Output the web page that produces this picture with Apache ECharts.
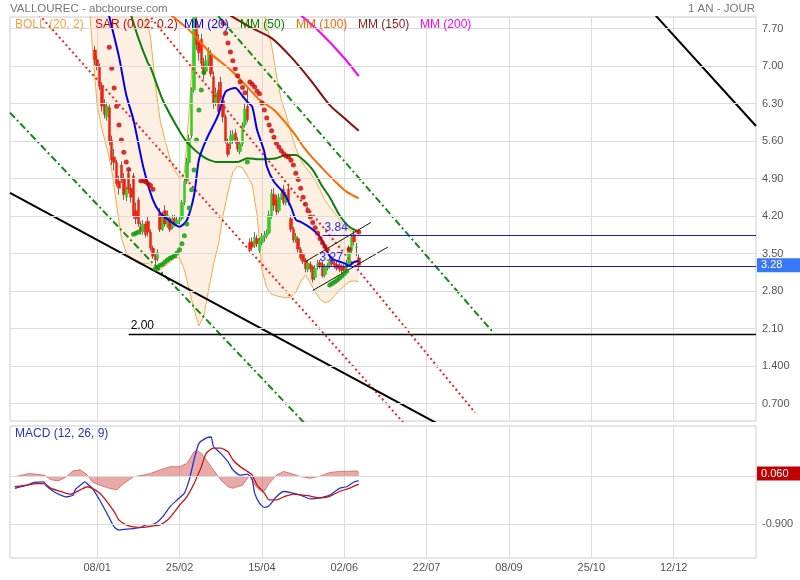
<!DOCTYPE html>
<html><head><meta charset="utf-8">
<script src="https://cdn.jsdelivr.net/npm/echarts@6/dist/echarts.min.js"></script>
<style>html,body{margin:0;padding:0;background:#fff}#c{width:800px;height:580px}</style>
</head><body><div id="c"></div>
<script>
// ---------- DATA ----------
// x = trading-day slot index (slot 36 = 08/01, one slot per trading day)
const SLOT_COUNT = 309;
const tickSlots  = [36, 70, 104, 138, 172, 206, 240, 274];
const tickLabels = ['08/01','25/02','15/04','02/06','22/07','08/09','25/10','12/12'];

const priceTicks      = [0.7, 1.4, 2.1, 2.8, 3.5, 4.2, 4.9, 5.6, 6.3, 7.0, 7.7];
const priceTickLabels = ['0.700','1.400','2.10','2.80','3.50','4.20','4.90','5.60','6.30','7.00','7.70'];
const macdTicks      = [0, -0.9];
const macdTickLabels = ['', '-0.900'];

const CANDLE_START = 35;
const open = [7.30,7.12,6.98,6.62,6.28,6.05,6.22,5.62,5.30,5.20,
4.85,5.15,4.90,4.55,5.00,4.72,4.95,4.30,4.50,4.00,
3.90,4.05,4.10,3.90,3.60,3.45,3.40,4.25,3.95,4.30,
4.00,4.15,3.98,4.15,4.05,4.10,4.15,4.45,4.85,5.20,
5.70,6.55,7.85,7.45,7.50,7.05,6.90,7.10,7.20,6.80,
6.30,6.55,6.70,6.35,6.05,5.55,5.55,5.62,5.75,5.60,
5.40,5.55,5.90,6.25,3.70,3.72,3.65,3.78,3.55,3.70,
3.80,3.82,3.88,4.20,4.60,4.50,4.30,4.55,4.70,4.45,
4.70,4.15,3.95,3.75,3.78,3.58,3.48,3.38,3.20,3.30,
3.25,3.05,3.25,3.33,3.30,3.10,3.22,3.28,3.38,3.32,
3.30,3.28,3.25,3.25,3.22,3.30,3.55,3.85,3.60,3.42];
const close = [7.12,7.00,6.62,6.25,6.10,6.25,5.60,5.25,5.20,4.80,
4.72,4.88,4.60,4.70,4.70,4.55,4.20,4.15,4.05,3.92,
4.05,3.85,3.90,3.60,3.45,3.38,3.52,3.95,4.20,4.05,
4.22,3.95,4.15,4.05,4.12,4.14,4.45,4.85,5.20,5.65,
6.55,7.90,7.40,7.25,7.05,6.85,7.10,7.28,6.85,6.30,
6.50,6.15,6.40,6.05,5.60,5.35,5.70,5.72,5.62,5.45,
5.55,5.90,6.20,6.00,3.58,3.62,3.80,3.68,3.75,3.82,
3.85,3.88,4.22,4.62,4.40,4.28,4.55,4.62,4.45,4.60,
4.48,3.95,3.75,3.82,3.58,3.42,3.35,3.22,3.32,3.22,
3.02,3.22,3.30,3.28,3.08,3.25,3.28,3.38,3.30,3.28,
3.22,3.20,3.18,3.20,3.32,3.60,3.80,3.72,3.62,3.28];
const low = [7.02,6.92,6.55,6.15,6.02,5.98,5.52,5.15,5.05,4.75,
4.60,4.82,4.50,4.48,4.62,4.45,4.15,4.05,4.00,3.85,
3.85,3.80,3.82,3.55,3.40,3.28,3.35,3.90,3.92,4.00,
3.98,3.90,3.95,4.00,4.02,4.05,4.12,4.40,4.80,5.15,
5.65,6.50,7.30,7.10,6.95,6.75,6.85,7.00,6.80,6.20,
6.25,6.10,6.35,5.95,5.55,5.30,5.45,5.55,5.55,5.40,
5.35,5.50,5.85,5.95,3.52,3.55,3.60,3.62,3.50,3.65,
3.72,3.78,3.85,4.15,4.30,4.22,4.25,4.50,4.40,4.40,
4.40,3.90,3.70,3.70,3.52,3.38,3.30,3.15,3.15,3.15,
2.96,3.00,3.20,3.22,3.05,3.05,3.18,3.22,3.25,3.22,
3.18,3.15,3.12,3.15,3.18,3.25,3.50,3.65,3.45,3.22];
const high = [7.38,7.20,7.05,6.70,6.38,6.32,6.28,5.70,5.45,5.25,
4.95,5.22,5.00,4.75,5.08,4.80,5.00,4.45,4.55,4.10,
4.12,4.10,4.20,3.95,3.65,3.50,3.58,4.35,4.28,4.40,
4.30,4.20,4.22,4.22,4.18,4.20,4.50,4.90,5.28,5.72,
6.60,8.20,8.10,7.60,7.60,7.15,7.20,7.35,7.30,6.90,
6.60,6.70,6.80,6.45,6.10,5.65,5.80,5.80,5.82,5.68,
5.60,5.95,6.30,6.60,3.78,3.80,3.90,3.85,3.80,3.88,
3.92,3.95,4.30,4.70,4.72,4.60,4.62,4.70,4.78,4.65,
4.80,4.22,4.00,3.88,3.82,3.62,3.52,3.42,3.38,3.35,
3.28,3.28,3.38,3.38,3.35,3.30,3.32,3.42,3.45,3.38,
3.35,3.32,3.30,3.30,3.38,3.65,3.85,3.92,3.70,3.48];
const lastPrice = 3.28;

const bollSlots = [33,34,36,38,40,42,44,46,48,50,52,54,56,58,60,62,64,66,68,70,72,74,76,78,80,82,84,86,88,90,92,94,96,98,100,102,104,106,108,110,112,114,116,118,120,122,124,126,128,130,132,134,136,138,140,142,144];
const bollLower = [7.95,7.35,6.27,5.81,5.47,5.06,4.41,3.79,3.51,3.42,3.34,3.30,3.32,3.30,3.19,3.19,3.27,3.34,3.42,3.42,3.19,2.82,2.45,2.15,2.33,2.82,3.29,3.66,4.22,4.65,5.02,5.13,5.10,4.95,4.78,4.22,3.19,2.86,2.74,2.71,2.69,2.67,2.69,2.78,2.97,3.10,2.95,2.78,2.65,2.58,2.61,2.71,2.82,2.89,2.97,2.99,2.97];
const bollUpper = [10.5,10.4,10.3,10.1,9.9,9.6,9.3,9.0,8.8,8.6,8.4,8.2,7.95,7.55,6.65,5.99,5.62,5.28,5.06,4.91,5.00,6.18,7.67,8.6,9.2,9.5,9.6,9.6,9.5,9.4,9.3,9.2,9.0,8.9,8.7,8.5,8.2,7.76,7.39,6.83,6.37,6.09,5.75,5.47,5.25,5.11,5.00,4.87,4.69,4.50,4.37,4.26,4.13,4.01,3.94,3.90,3.90];

const mm20  = [[40,8.1],[45,7.17],[48,6.46],[51,5.99],[55,5.12],[59,4.50],[62,4.26],[66,4.11],[70,4.00],[73,4.12],[76,4.59],[78,5.25],[81,5.62],[86,6.09],[89,6.52],[93,6.59],[96,6.44],[98,6.33],[100,6.24],[102,5.81],[105,5.40],[106,5.13],[109,4.84],[113,4.63],[116,4.37],[118,4.13],[120,4.09],[124,3.98],[128,3.81],[131,3.53],[133,3.40],[138,3.32],[140,3.27],[142,3.34],[144,3.36]];
const mm50  = [[49,8.1],[53,7.52],[57,7.05],[58,6.98],[63,6.37],[69,5.86],[73,5.58],[80,5.30],[85,5.21],[89,5.21],[94,5.21],[98,5.28],[103,5.26],[110,5.28],[114,5.34],[118,5.34],[121,5.25],[125,5.06],[129,4.75],[132,4.55],[136,4.22],[140,4.00],[144,3.91]];
const mm100 = [[65,8.0],[74,7.67],[83,7.23],[91,6.93],[98,6.61],[103,6.37],[109,6.18],[114,5.93],[118,5.70],[121,5.50],[125,5.28],[129,5.09],[135,4.81],[139,4.65],[144,4.53]];
const mm150 = [[87,8.05],[99,7.73],[108,7.52],[116,7.17],[124,6.74],[132,6.27],[138,6.03],[144,5.79]];
const mm200 = [[120,7.95],[128,7.63],[138,7.15],[144,6.81]];

const sarRed = [[41,7.35],[42,6.96],[43,6.59],[44,6.25],[45,5.90],[46,5.62],[47,5.39],[48,5.21],[49,5.07],
[54,4.86],[55,4.86],[56,4.84],[57,4.80],[58,4.77],[59,4.70],
[88,7.80],[89,7.61],[90,7.43],[91,7.26],[92,7.10],[93,6.95],[94,6.82],[95,6.70],[96,6.60],[97,6.50],
[99,6.70],[100,6.66],[101,6.61],[102,6.53],[103,6.48],[104,6.31],[105,6.18],[106,6.03],[107,5.90],[108,5.79],[109,5.67],[110,5.56],[111,5.49],[112,5.42],[113,5.36],[114,5.32],[115,5.30],[116,5.24],[117,5.15],[118,5.00],[119,4.88],[120,4.72],[121,4.55],[122,4.42],[123,4.30],[124,4.18],[125,4.08],[126,3.98],[127,3.88],[128,3.78],[129,3.70],[130,3.63],[131,3.57],
[140,3.58],[144,3.90]];
const sarGreen = [[51,3.86],[52,3.88],[53,3.90],
[60,3.21],[61,3.25],[62,3.28],[63,3.30],[64,3.34],[65,3.38],[66,3.41],[67,3.43],[68,3.46],[69,3.51],[70,3.57],[71,3.68],[72,3.83],[73,4.05],[74,4.35],[75,4.69],[76,5.06],[77,5.62],[78,6.18],[79,6.55],[80,6.88],
[98,5.21],
[132,2.91],[133,2.94],[134,2.97],[135,3.00],[136,3.04],[137,3.08],[138,3.12],[139,3.17]];

const trendBlackLow  = [[0,4.63],[182,0.19]];
const trendBlackHigh = [[260,8.27],[308,5.88]];
const trendGreenUp   = [[86,7.93],[199,2.05]];
const trendGreenLow  = [[0,6.13],[125,0.17]];
const trendRedLow    = [[12,7.96],[166,0.16]];
const trendRedUp     = [[57,7.97],[192,0.53]];
const channelUp      = [[122,3.35],[149,4.08]];
const channelDown    = [[125,2.81],[156,3.62]];
const levels = [{from:129, value:3.84, text:'3.84'}, {from:127, value:3.27, text:'3.27'}, {from:49, value:2.00, text:'2.00'}];

const macdLine = [[2,-0.22],[7,-0.16],[10,-0.11],[14,-0.10],[15,-0.17],[18,-0.28],[21,-0.35],[23,-0.38],[26,-0.35],[27,-0.24],[29,-0.16],[31,-0.10],[32,-0.14],[34,-0.22],[37,-0.44],[40,-0.69],[43,-0.95],[45,-1.01],[48,-0.99],[51,-0.98],[54,-0.96],[56,-0.91],[59,-0.90],[61,-0.85],[63,-0.76],[66,-0.57],[69,-0.44],[72,-0.31],[74,-0.06],[76,0.32],[78,0.63],[81,0.73],[83,0.75],[84,0.57],[87,0.44],[90,0.28],[92,0.13],[95,0.03],[98,0.05],[100,-0.06],[101,-0.31],[103,-0.50],[105,-0.58],[107,-0.55],[110,-0.38],[113,-0.28],[116,-0.30],[120,-0.35],[124,-0.42],[128,-0.40],[132,-0.35],[136,-0.22],[139,-0.19],[142,-0.10],[144,-0.08]];
const signalLine = [[2,-0.19],[7,-0.16],[11,-0.13],[14,-0.13],[17,-0.22],[21,-0.28],[25,-0.33],[29,-0.25],[32,-0.19],[34,-0.22],[37,-0.31],[40,-0.47],[43,-0.66],[45,-0.82],[48,-0.91],[51,-0.95],[55,-0.96],[59,-0.93],[62,-0.91],[65,-0.82],[68,-0.66],[70,-0.54],[73,-0.38],[76,-0.13],[79,0.19],[81,0.44],[84,0.54],[87,0.54],[90,0.47],[92,0.32],[95,0.19],[98,0.10],[100,0.03],[102,-0.16],[105,-0.31],[107,-0.44],[110,-0.44],[113,-0.38],[117,-0.33],[123,-0.36],[128,-0.40],[132,-0.37],[136,-0.28],[140,-0.22],[144,-0.14]];
const histogram = [[2,0],[8,0.06],[14,0.03],[17,-0.06],[20,-0.08],[23,-0.01],[26,0.11],[29,0.13],[32,0.03],[34,-0.10],[37,-0.16],[41,-0.22],[44,-0.25],[47,-0.13],[51,0],[55,0.03],[58,0.06],[62,0.13],[66,0.19],[70,0.19],[73,0.25],[76,0.47],[77,0.50],[79,0.44],[81,0.32],[84,0.13],[87,-0.06],[90,-0.19],[92,-0.22],[96,-0.16],[99,0.03],[101,-0.16],[103,-0.25],[105,-0.27],[107,-0.13],[110,0.03],[113,0.10],[116,0.06],[120,0],[124,-0.03],[128,0.01],[132,0.08],[136,0.10],[140,0.10],[143,0.11],[144,0.08]];
const lastHist = 0.060;

// ---------- CHART ----------
const FONT = 'Liberation Sans, Arial, sans-serif';
const PRICE_MIN = 0.373, PRICE_MAX = 7.915;
const cats = Array.from({length: SLOT_COUNT}, (_, i) => String(i));
const tickSet = new Set(tickSlots);
const tickMap = {}; tickSlots.forEach((s, i) => tickMap[s] = tickLabels[i]);
const cap = (v) => Math.min(v, PRICE_MAX);   // keep wicks inside the plot frame

const wickData = [], bodyData = [];
for (let i = 0; i < SLOT_COUNT; i++) {
  const k = i - CANDLE_START;
  if (k >= 0 && k < open.length) {
    wickData.push([cap(open[k]), cap(close[k]), cap(low[k]), cap(high[k])]);
    bodyData.push([cap(open[k]), cap(close[k]), cap(Math.min(open[k], close[k])), cap(Math.max(open[k], close[k]))]);
  } else {
    wickData.push(['-','-','-','-']);
    bodyData.push(['-','-','-','-']);
  }
}

function xAxis(gi, showLabels) {
  return {
    type: 'category', gridIndex: gi, data: cats, boundaryGap: false,
    axisLine: {show: false}, axisTick: {show: false},
    axisLabel: {show: showLabels, interval: (i) => tickSet.has(i), formatter: (v, i) => tickMap[i] || '',
      color: '#555', fontSize: 11, margin: 4, fontFamily: FONT},
    splitLine: {show: true, interval: (i) => tickSet.has(i), lineStyle: {color: '#dcdcdc', width: 1}}
  };
}

const P = {xAxisIndex: 0, yAxisIndex: 0};
const M = {xAxisIndex: 1, yAxisIndex: 1};
function lineS(data, color, width, extra) {
  return Object.assign({type: 'line', data, symbol: 'none', silent: true, clip: true, lineStyle: {color, width}, z: 3}, P, extra || {});
}
const HIDDEN = {color: 'rgba(0,0,0,0)', width: 0};

const series = [
  // price grid lines + labels
  Object.assign({type: 'line', data: [[0, -99]], symbol: 'none', silent: true, z: 0,
    markLine: {silent: true, symbol: ['none','none'], animation: false,
      lineStyle: {color: '#dcdcdc', width: 1, type: 'solid'},
      label: {show: true, position: 'end', color: '#555', fontSize: 11, distance: 6, fontFamily: FONT},
      data: priceTicks.map((v, i) => ({yAxis: v, label: {formatter: priceTickLabels[i]}}))}}, P),
  // Bollinger
  lineS(bollSlots.map((s, i) => [s, bollLower[i]]), '#f8a848', 1, {stack: 'boll', z: 1}),
  lineS(bollSlots.map((s, i) => [s, bollUpper[i] - bollLower[i]]), '#f8a848', 0,
    {stack: 'boll', z: 1, areaStyle: {color: 'rgba(248,190,130,0.32)'}, lineStyle: {width: 0, opacity: 0}}),
  lineS(bollSlots.map((s, i) => [s, bollUpper[i]]), '#f8a848', 1, {z: 1}),
  // candles
  Object.assign({type: 'candlestick', data: wickData, barWidth: 1, silent: true, clip: true, z: 2,
    itemStyle: {color: '#666', color0: '#666', borderColor: '#666', borderColor0: '#666', borderWidth: 1}}, P),
  Object.assign({type: 'candlestick', data: bodyData, barWidth: 3, silent: true, clip: true, z: 2,
    itemStyle: {color: '#33cc22', color0: '#ee2211', borderColor: '#33cc22', borderColor0: '#ee2211', borderWidth: 0.5}}, P),
  // last price box
  Object.assign({type: 'line', data: [[0, -99]], symbol: 'none', silent: true, z: 6,
    markLine: {silent: true, symbol: ['none','none'], animation: false, lineStyle: HIDDEN,
      data: [{yAxis: lastPrice}],
      label: {show: true, position: 'end', formatter: lastPrice.toFixed(2), distance: 1,
        backgroundColor: '#3877f5', color: '#fff', padding: [2, 19, 1, 4], fontSize: 11, fontFamily: FONT}}}, P),
  // trend lines
  lineS(trendRedLow, '#ff1a1a', 2, {lineStyle: {color: '#ff1a1a', width: 2, type: [2, 3]}}),
  lineS(trendRedUp, '#ff1a1a', 2, {lineStyle: {color: '#ff1a1a', width: 2, type: [2, 3]}}),
  lineS(trendGreenUp, '#108a10', 2, {lineStyle: {color: '#108a10', width: 2, type: [7, 3, 2, 3]}}),
  lineS(trendGreenLow, '#108a10', 2, {lineStyle: {color: '#108a10', width: 2, type: [7, 3, 2, 3]}}),
  lineS(trendBlackLow, '#000', 2),
  lineS(trendBlackHigh, '#000', 2),
  lineS(channelUp, '#111', 1),
  lineS(channelDown, '#111', 1),
  // levels
  Object.assign({type: 'line', data: [[0, -99]], symbol: 'none', silent: true, z: 3,
    markLine: {silent: true, symbol: ['none','none'], animation: false,
      data: levels.map((l, i) => [
        {coord: [l.from, l.value], lineStyle: {color: i < 2 ? '#1a1acc' : '#000', width: i < 2 ? 1.2 : 1.3, type: 'solid'},
         label: {show: true, position: 'insideStartTop', formatter: l.text, color: i < 2 ? '#2a2aff' : '#000',
           fontSize: 12, distance: 2, fontFamily: FONT}},
        {coord: [SLOT_COUNT - 1, l.value]}])}}, P),
  // moving averages
  lineS(mm200, '#ff00ff', 2, {smooth: 0.25}),
  lineS(mm150, '#8b0f0f', 2, {smooth: 0.25}),
  lineS(mm100, '#ff6a00', 2, {smooth: 0.25}),
  lineS(mm50, '#0b800b', 2, {smooth: 0.25}),
  lineS(mm20, '#0000ee', 2, {smooth: 0.25}),
  // SAR
  Object.assign({type: 'scatter', data: sarRed, symbolSize: 5, silent: true, clip: true, z: 4, itemStyle: {color: '#cc0000'}}, P),
  Object.assign({type: 'scatter', data: sarGreen, symbolSize: 5, silent: true, clip: true, z: 4, itemStyle: {color: '#0a9a0a'}}, P),
  // MACD grid lines
  Object.assign({type: 'line', data: [[0, -99]], symbol: 'none', silent: true, z: 0,
    markLine: {silent: true, symbol: ['none','none'], animation: false,
      lineStyle: {color: '#dcdcdc', width: 1, type: 'solid'},
      label: {show: true, position: 'end', color: '#555', fontSize: 11, distance: 6, fontFamily: FONT},
      data: macdTicks.map((v, i) => ({yAxis: v, label: {formatter: macdTickLabels[i]}}))}}, M),
  Object.assign({type: 'line', data: histogram, symbol: 'none', silent: true, clip: true, z: 1,
    lineStyle: {color: 'rgba(200,50,50,0.55)', width: 1}, areaStyle: {color: 'rgba(200,50,50,0.6)', origin: 0}}, M),
  Object.assign({type: 'line', data: [[0, -99]], symbol: 'none', silent: true, z: 6,
    markLine: {silent: true, symbol: ['none','none'], animation: false, lineStyle: HIDDEN,
      data: [{yAxis: lastHist}],
      label: {show: true, position: 'end', formatter: lastHist.toFixed(3), distance: 1,
        backgroundColor: '#c00000', color: '#fff', padding: [2, 12, 1, 4], fontSize: 11, fontFamily: FONT}}}, M),
  Object.assign({type: 'line', data: macdLine, symbol: 'none', silent: true, clip: true, z: 2, smooth: 0.2,
    lineStyle: {color: '#2233dd', width: 1.3}}, M),
  Object.assign({type: 'line', data: signalLine, symbol: 'none', silent: true, clip: true, z: 2, smooth: 0.2,
    lineStyle: {color: '#cc1111', width: 1.3}}, M)
];

function t(text, pos, color, size) {
  return Object.assign({text, padding: 0, textStyle: {color, fontSize: size, fontWeight: 'normal', fontFamily: FONT}}, pos);
}

const option = {
  animation: false,
  backgroundColor: '#fff',
  title: [
    t('VALLOUREC - abcbourse.com', {left: 10, top: 3}, '#777', 11.5),
    t('1 AN - JOUR', {right: 45, top: 3}, '#777', 11.5),
    t('BOLL (20, 2)', {left: 15, top: 19}, '#f9a040', 12),
    t('SAR (0.02; 0.2)', {left: 95, top: 19}, '#dd0000', 12),
    t('MM (20)', {left: 184, top: 19}, '#0000ff', 12),
    t('MM (50)', {left: 240, top: 19}, '#008000', 12),
    t('MM (100)', {left: 296, top: 19}, '#ff6600', 12),
    t('MM (150)', {left: 358, top: 19}, '#8b1a1a', 12),
    t('MM (200)', {left: 420, top: 19}, '#ff00ff', 12),
    t('MACD (12, 26, 9)', {left: 15, top: 428}, '#2233cc', 12)
  ],
  grid: [
    {left: 10, width: 746, top: 17, height: 404, show: true, borderColor: '#ccc', borderWidth: 1, backgroundColor: 'transparent'},
    {left: 10, width: 746, top: 426, height: 132, show: true, borderColor: '#ccc', borderWidth: 1, backgroundColor: 'transparent'}
  ],
  xAxis: [xAxis(0, false), xAxis(1, true)],
  yAxis: [
    {type: 'value', gridIndex: 0, min: PRICE_MIN, max: PRICE_MAX, show: false, splitLine: {show: false}},
    {type: 'value', gridIndex: 1, min: -1.537, max: 0.958, show: false, splitLine: {show: false}}
  ],
  series
};

const chart = echarts.init(document.getElementById('c'), null, {renderer: 'canvas'});
chart.setOption(option);
</script></body></html>
